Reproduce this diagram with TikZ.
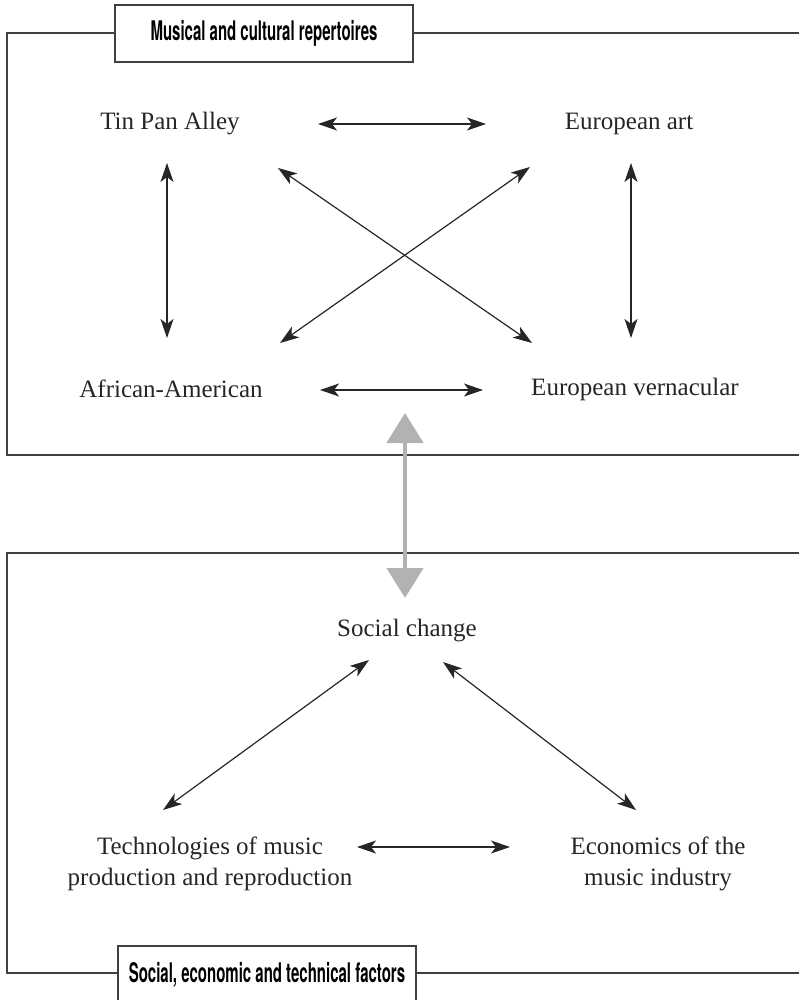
\documentclass[tikz,border=0pt]{standalone}
\usepackage{fontspec}
\setmainfont{Liberation Serif}
\newfontfamily\titlefont[FakeStretch=0.555]{TeX Gyre Heros}
\usetikzlibrary{arrows.meta,calc}
\begin{document}
\begin{tikzpicture}[x=1pt,y=-1pt,
 lbl/.style={font=\fontsize{25}{31}\selectfont, text=black!85, align=center, inner sep=0},
 ttl/.style={draw=black!75, line width=1.6pt, fill=white, font=\titlefont\bfseries\fontsize{27}{30}\selectfont, minimum width=298pt, minimum height=57pt, inner sep=0},
 frame/.style={draw=black!75, line width=1.4pt},
 arr/.style={draw=black!85, line width=1.2pt, {Stealth[length=19pt,width=13pt,inset=5pt]}-{Stealth[length=19pt,width=13pt,inset=5pt]}},
 big/.style={draw=black!30, line width=4.5pt, {Triangle[length=30pt,width=36pt]}-{Triangle[length=30pt,width=36pt]}}
]
\useasboundingbox (0,0) rectangle (799,1000);
% frames
\draw[frame] (805,33) -- (7,33) -- (7,455) -- (805,455);
\draw[frame] (805,553) -- (7,553) -- (7,973) -- (805,973);
% titles
\node[ttl] (t1) at (264,33.5) {Musical and cultural repertoires};
\node[ttl] (t2) at (267,974.5) {Social, economic and technical factors};
% labels
\node[lbl] (tpa) at (170,124) {Tin Pan Alley};
\node[lbl] (ea) at (629,124) {European art};
\node[lbl] (aa) at (171,389) {African-American};
\node[lbl] (ev) at (635,389) {European vernacular};
\node[lbl] (sc) at (407,631) {Social change};
\node[lbl] (tech) at (210,864) {Technologies of music\\production and reproduction};
\node[lbl] (econ) at (658,864) {Economics of the\\music industry};
% connector end points
\coordinate (tpaE) at ($(tpa)+(148,0)$);
\coordinate (eaW)  at ($(ea)+(-143,0)$);
\coordinate (aaE)  at ($(aa)+(149,1)$);
\coordinate (evW)  at ($(ev)+(-152,1)$);
\coordinate (tpaS) at ($(tpa)+(-3,39)$);
\coordinate (aaN)  at ($(aa)+(-4,-51)$);
\coordinate (eaS)  at ($(ea)+(2,39)$);
\coordinate (evN)  at ($(ev)+(-4,-51)$);
\coordinate (tpaSE) at ($(tpa)+(108,44)$);
\coordinate (evNW) at ($(ev)+(-103,-46)$);
\coordinate (eaSW) at ($(ea)+(-99,43)$);
\coordinate (aaNE) at ($(aa)+(109,-46)$);
\coordinate (scSW) at ($(sc)+(-38,29)$);
\coordinate (scSE) at ($(sc)+(36,31)$);
\coordinate (techNE) at ($(tech)+(-47,-54)$);
\coordinate (econNW) at ($(econ)+(-22,-54)$);
\coordinate (techE) at ($(tech)+(147,-17)$);
\coordinate (econW) at ($(econ)+(-148,-17)$);
\coordinate (bigTop) at (405,413);
\coordinate (bigBot) at (405,598);
% arrows
\draw[arr] (tpaE) -- (eaW);
\draw[arr] (aaE) -- (evW);
\draw[arr] (tpaS) -- (aaN);
\draw[arr] (eaS) -- (evN);
\draw[arr] (tpaSE) -- (evNW);
\draw[arr] (eaSW) -- (aaNE);
\draw[arr] (scSW) -- (techNE);
\draw[arr] (scSE) -- (econNW);
\draw[arr] (techE) -- (econW);
\draw[big] (bigTop) -- (bigBot);
\end{tikzpicture}
\end{document}
